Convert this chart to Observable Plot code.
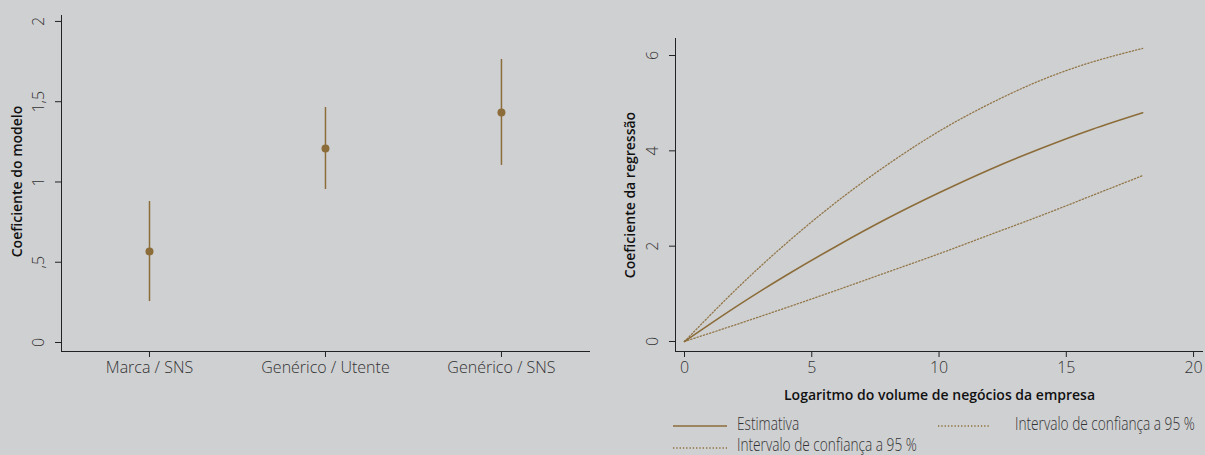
<!DOCTYPE html>
<html>
<head>
<meta charset="utf-8">
<script src="https://cdn.jsdelivr.net/npm/d3@7"></script>
<script src="https://cdn.jsdelivr.net/npm/@observablehq/plot@0.6"></script>
<style>
  html, body { margin: 0; padding: 0; background: #cfd0d2; width: 1205px; height: 455px; overflow: hidden; }
  #wrap { position: relative; width: 1205px; height: 455px; font-family: "Open Sans", sans-serif; }
  #left { position: absolute; left: 0; top: 0; }
  #right { position: absolute; left: 600px; top: 0; }
  .lg { position: absolute; font-family: "Open Sans", sans-serif; font-weight: 300; font-size: 18px; color: #333; white-space: nowrap; transform: scaleX(0.76); transform-origin: left center; line-height: 18px; height: 18px; }
  .sw { position: absolute; }
</style>
</head>
<body>
<div id="wrap">
  <div id="left"></div>
  <div id="right"></div>
</div>
<script>
// ---- Left panel data ----
const categories = ["Marca / SNS", "Genérico / Utente", "Genérico / SNS"];
const coef = [0.567, 1.209, 1.433];
const ciLow = [0.255, 0.953, 1.103];
const ciHigh = [0.878, 1.464, 1.763];
const leftTicks = [0, 0.5, 1, 1.5, 2];

// ---- Right panel data ----
const logVolume = [0, 2, 4, 6, 8, 10, 12, 14, 16, 18];
const estimate  = [0, 0.72, 1.39, 2.01, 2.59, 3.12, 3.61, 4.05, 4.45, 4.80];
const upper95   = [0, 1.08, 2.06, 2.94, 3.72, 4.41, 4.99, 5.48, 5.86, 6.15];
const lower95   = [0, 0.35, 0.71, 1.08, 1.46, 1.84, 2.24, 2.64, 3.06, 3.48];
const rightXTicks = [0, 5, 10, 15, 20];
const rightYTicks = [0, 2, 4, 6];

const gold = "#8c6d3a";
const ink = "#333333";
const axisInk = "#222222";

const leftRows = categories.map((c, i) => ({i: i + 1, cat: c, coef: coef[i], lo: ciLow[i], hi: ciHigh[i]}));
const fmtPt = d => d === 0 ? "0" : String(d).replace(".", ",").replace(/^0,/, ",");

const lx = [0.5, 3.506], ly = [-0.056, 2.037];
const left = Plot.plot({
  width: 600, height: 385,
  marginTop: 15, marginBottom: 34, marginLeft: 61, marginRight: 10,
  style: {background: "transparent", fontFamily: "Open Sans, sans-serif", color: ink},
  x: {domain: lx},
  y: {domain: ly},
  marks: [
    Plot.ruleX([lx[0]], {y1: ly[0], y2: ly[1], stroke: axisInk, strokeWidth: 1}),
    Plot.ruleY([ly[0]], {x1: lx[0], x2: lx[1], stroke: axisInk, strokeWidth: 1}),
    Plot.axisX({ticks: [1, 2, 3], tickFormat: d => categories[d - 1], tickSize: 6, tickPadding: 4, fontSize: 16, fontWeight: 300, stroke: axisInk, fill: ink, label: null}),
    Plot.axisY({ticks: leftTicks, tickFormat: fmtPt, tickSize: 6, tickPadding: 12, tickRotate: -90, textAnchor: "middle", fontSize: 16, fontWeight: 300, stroke: axisInk, fill: ink, label: null}),
    Plot.ruleX(leftRows, {x: "i", y1: "lo", y2: "hi", stroke: gold, strokeWidth: 1.5}),
    Plot.dot(leftRows, {x: "i", y: "coef", r: 4, fill: gold, stroke: "none"}),
    Plot.text(["Coeficiente do modelo"], {frameAnchor: "left", dx: -44, dy: -2, rotate: -90, textAnchor: "middle", lineAnchor: "middle", fontSize: 14, fontWeight: 600, fill: "#111"})
  ]
});
document.getElementById("left").appendChild(left);

const estRows = logVolume.map((x, i) => ({x, y: estimate[i]}));
const upRows = logVolume.map((x, i) => ({x, y: upper95[i]}));
const loRows = logVolume.map((x, i) => ({x, y: lower95[i]}));

const rx = [-0.354, 20.39], ry = [-0.21, 6.357];
const right = Plot.plot({
  width: 605, height: 410,
  marginTop: 38, marginBottom: 59, marginLeft: 75, marginRight: 2,
  style: {background: "transparent", fontFamily: "Open Sans, sans-serif", color: ink},
  x: {domain: rx},
  y: {domain: ry},
  marks: [
    Plot.ruleX([rx[0]], {y1: ry[0], y2: ry[1], stroke: axisInk, strokeWidth: 1}),
    Plot.ruleY([ry[0]], {x1: rx[0], x2: rx[1], stroke: axisInk, strokeWidth: 1}),
    Plot.axisX({ticks: rightXTicks, tickFormat: d => String(d), tickSize: 6, tickPadding: 4, fontSize: 16, fontWeight: 300, stroke: axisInk, fill: ink, label: null}),
    Plot.axisY({ticks: rightYTicks, tickFormat: d => String(d), tickSize: 6, tickPadding: 12, tickRotate: -90, textAnchor: "middle", fontSize: 16, fontWeight: 300, stroke: axisInk, fill: ink, label: null}),
    Plot.line(upRows, {x: "x", y: "y", curve: "natural", stroke: gold, strokeWidth: 1.3, strokeDasharray: "1.3 2", strokeOpacity: 0.9}),
    Plot.line(loRows, {x: "x", y: "y", curve: "natural", stroke: gold, strokeWidth: 1.3, strokeDasharray: "1.3 2", strokeOpacity: 0.9}),
    Plot.line(estRows, {x: "x", y: "y", curve: "natural", stroke: gold, strokeWidth: 1.6}),
    Plot.text(["Coeficiente da regressão"], {frameAnchor: "left", dx: -45, rotate: -90, textAnchor: "middle", lineAnchor: "middle", fontSize: 14, fontWeight: 600, fill: "#111"}),
    Plot.text(["Logaritmo do volume de negócios da empresa"], {frameAnchor: "bottom", dy: 44, textAnchor: "middle", lineAnchor: "middle", fontSize: 14, fontWeight: 600, fill: "#111"})
  ]
});
document.getElementById("right").appendChild(right);

// ---- Legend ----
const legendItems = [
  {label: "Estimativa", dash: null, x: 673, y: 426, w: 54, tx: 737, ty: 414},
  {label: "Intervalo de confiança a 95 %", dash: "1.3 2", x: 938, y: 426, w: 52, tx: 1015, ty: 414},
  {label: "Intervalo de confiança a 95 %", dash: "1.3 2", x: 673, y: 448, w: 54, tx: 737, ty: 435}
];
const wrap = document.getElementById("wrap");
legendItems.forEach(it => {
  const sw = d3.create("svg").attr("class", "sw").attr("width", it.w).attr("height", 4)
    .style("left", it.x + "px").style("top", (it.y - 2) + "px");
  sw.append("line").attr("x1", 0).attr("x2", it.w).attr("y1", 2).attr("y2", 2)
    .attr("stroke", gold).attr("stroke-width", it.dash ? 1.3 : 1.6)
    .attr("stroke-dasharray", it.dash);
  wrap.appendChild(sw.node());
  const t = document.createElement("div");
  t.className = "lg";
  t.textContent = it.label;
  t.style.left = it.tx + "px";
  t.style.top = it.ty + "px";
  wrap.appendChild(t);
});
</script>
</body>
</html>
